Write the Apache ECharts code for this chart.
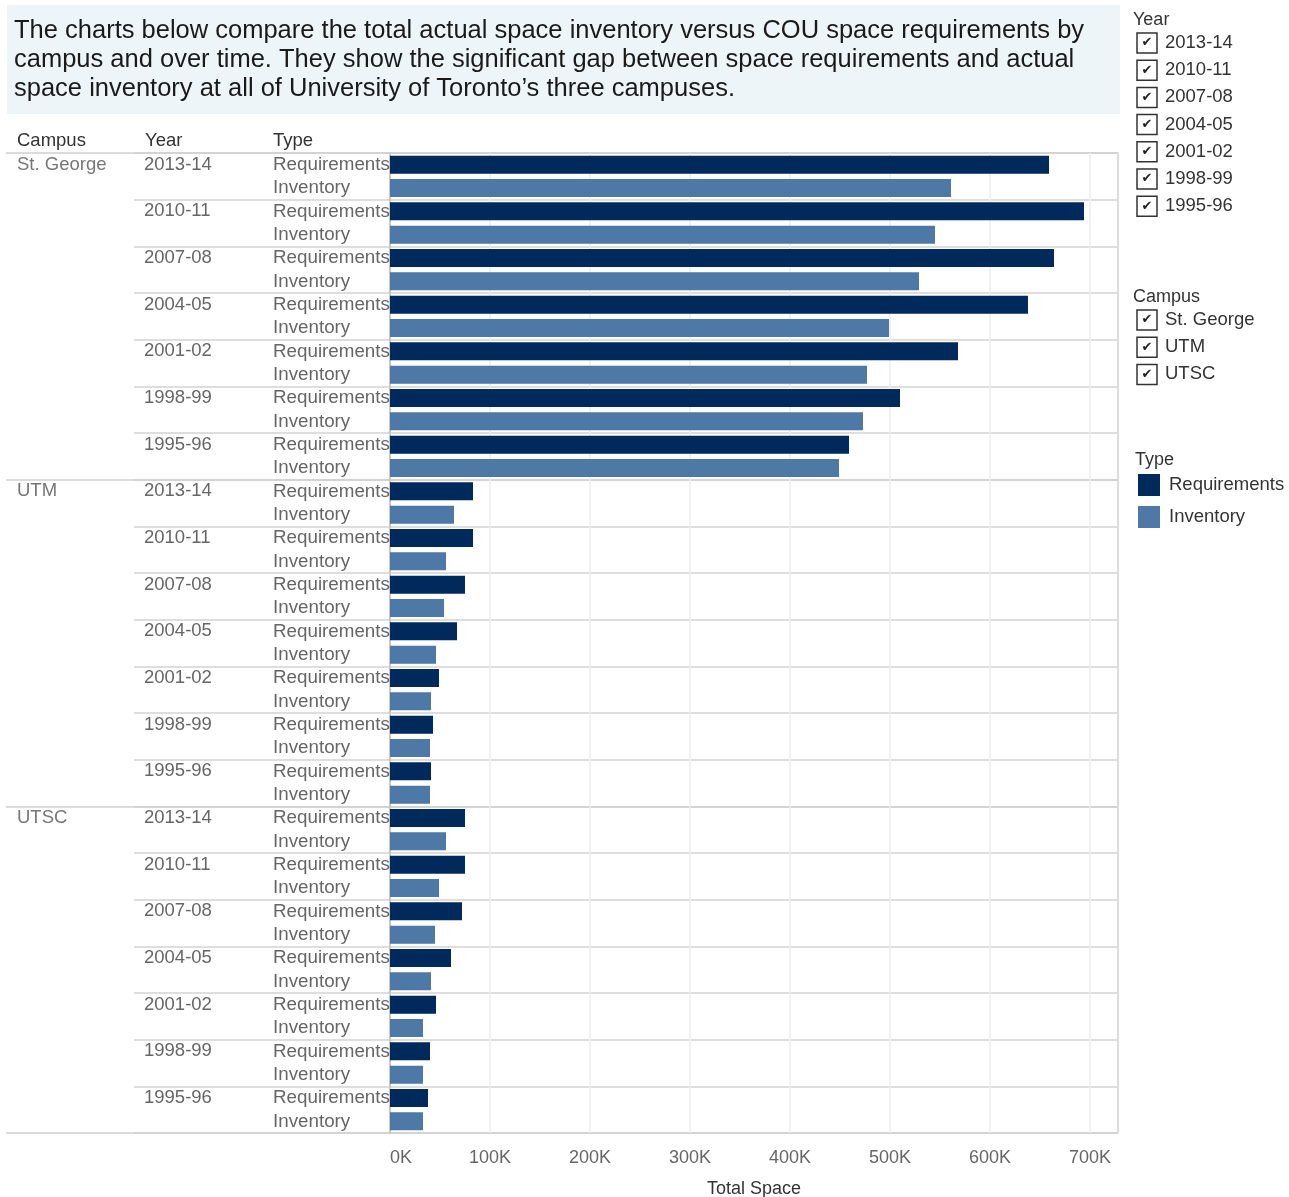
<!DOCTYPE html>
<html>
<head>
<meta charset="utf-8">
<script src="https://cdn.jsdelivr.net/npm/echarts@6/dist/echarts.min.js"></script>
<style>
html,body{margin:0;padding:0;background:#fff;}
#chart{width:1289px;height:1197px;}
</style>
</head>
<body>
<div id="chart"></div>
<script>
// ---- data ----
const campuses = ['St. George', 'UTM', 'UTSC'];
const years = ['2013-14', '2010-11', '2007-08', '2004-05', '2001-02', '1998-99', '1995-96'];
const types = ['Requirements', 'Inventory'];
const stGeorgeRequirements = [659000, 694000, 664000, 638000, 568000, 510000, 459000];
const stGeorgeInventory    = [561000, 545000, 529000, 499000, 477000, 473000, 449000];
const utmRequirements      = [83000, 83000, 75000, 67000, 49000, 43000, 41000];
const utmInventory         = [64000, 56000, 54000, 46000, 41000, 40000, 40000];
const utscRequirements     = [75000, 75000, 72000, 61000, 46000, 40000, 38000];
const utscInventory        = [56000, 49000, 45000, 41000, 33000, 33000, 33000];
const xTicks = [0, 100000, 200000, 300000, 400000, 500000, 600000, 700000];
const titleLines = [
  'The charts below compare the total actual space inventory versus COU space requirements by',
  'campus and over time. They show the significant gap between space requirements and actual',
  'space inventory at all of University of Toronto\u2019s three campuses.'
];

// ---- build rows ----
const reqByCampus = [stGeorgeRequirements, utmRequirements, utscRequirements];
const invByCampus = [stGeorgeInventory, utmInventory, utscInventory];
const rowCats = [], yearCats = [], reqData = [], invData = [];
campuses.forEach((c, ci) => {
  years.forEach((y, yi) => {
    yearCats.push(c + '|' + y);
    types.forEach(t => rowCats.push(c + '|' + y + '|' + t));
    reqData.push(reqByCampus[ci][yi], '-');
    invData.push('-', invByCampus[ci][yi]);
  });
});

const FONT = '"Liberation Sans", Arial, sans-serif';
const REQ = '#002a5c';
const INV = '#4e78a6';
const TOP = 153, BOTTOM = 1197 - 1133, RIGHT = 1289 - 1118;
const rowH = (1133 - 153) / rowCats.length;

// label helper: put text on first row of a band of n rows
function topOfBand(label, n) {
  return label + '\n\u00a0'.repeat(n - 1);
}

// ---- side filter boxes (decoration) ----
const graphics = [];
graphics.push({type:'rect', shape:{x:7, y:5, width:1113, height:109}, style:{fill:'#eef5f9'}, z:0});
graphics.push({type:'text', left:14, top:16, style:{text:titleLines.join('\n'), font:'25.5px ' + FONT, fill:'#1a1a1a', lineHeight:29}});
[['Campus',17],['Year',145],['Type',273]].forEach(h => {
  graphics.push({type:'text', left:h[1], top:131, style:{text:h[0], font:'18.5px ' + FONT, fill:'#333'}});
});
function filterList(title, items, topY) {
  graphics.push({type:'text', left:1133, top:topY - 8, style:{text:title, font:'18px ' + FONT, fill:'#333'}});
  items.forEach((it, i) => {
    const cy = topY + 24 + i * 27.2;
    graphics.push({type:'rect', shape:{x:1137, y:cy - 10, width:20, height:20}, style:{fill:'#fff', stroke:'#333', lineWidth:1.5}});
    graphics.push({type:'text', x:1147, y:cy, style:{text:'\u2714', font:'13px "DejaVu Sans"', fill:'#222', align:'center', verticalAlign:'middle'}});
    graphics.push({type:'text', x:1165, y:cy, style:{text:it, font:'18.5px ' + FONT, fill:'#333', verticalAlign:'middle'}});
  });
}
filterList('Year', years, 19);
filterList('Campus', campuses, 296);
graphics.push({type:'text', left:1135, top:451, style:{text:'Type', font:'18px ' + FONT, fill:'#333'}});

const chart = echarts.init(document.getElementById('chart'), null, {renderer:'canvas'});
chart.setOption({
  animation:false,
  textStyle:{fontFamily:FONT},
  legend:{
    data:types, orient:'vertical', left:1138, top:474, padding:0, itemWidth:22, itemHeight:22, itemGap:10,
    icon:'rect', selectedMode:false,
    textStyle:{fontSize:18.5, color:'#333', fontFamily:FONT, padding:[0,0,0,4]}
  },
  grid:[
    {left:390, right:RIGHT, top:TOP, bottom:BOTTOM, outerBoundsMode:'none', containLabel:false},
    {left:134, right:RIGHT, top:TOP, bottom:BOTTOM, outerBoundsMode:'none', containLabel:false},
    {left:6, right:RIGHT, top:TOP, bottom:BOTTOM, outerBoundsMode:'none', containLabel:false}
  ],
  xAxis:[
    {gridIndex:0, type:'value', min:0, max:728000, interval:100000,
     axisLine:{show:false}, axisTick:{show:false},
     axisLabel:{color:'#666', fontSize:18, margin:16, alignMinLabel:'left',
       formatter:v => xTicks.indexOf(v) >= 0 ? (v / 1000) + 'K' : ''},
     splitLine:{show:true, lineStyle:{color:'#ececec', width:1.5}},
     name:'Total Space', nameLocation:'middle', nameGap:47,
     nameTextStyle:{color:'#333', fontSize:18}},
    {gridIndex:1, type:'value', show:false, min:0, max:1},
    {gridIndex:2, type:'value', show:false, min:0, max:1}
  ],
  yAxis:[
    {gridIndex:0, type:'category', data:rowCats, inverse:true,
     axisLine:{show:true, lineStyle:{color:'#c8c8c8', width:2}}, axisTick:{show:false},
     axisLabel:{interval:0, align:'left', margin:117, color:'#666', fontSize:18.8,
       formatter:v => v.split('|')[2]},
     splitLine:{show:false}},
    {gridIndex:0, type:'category', data:rowCats, inverse:true, position:'right',
     axisLine:{show:true, lineStyle:{color:'#d6d6d6', width:1.5}}, axisTick:{show:false},
     axisLabel:{show:false}, splitLine:{show:false}},
    {gridIndex:1, type:'category', data:yearCats, inverse:true,
     axisLine:{show:false}, axisTick:{show:false},
     axisLabel:{interval:0, inside:true, margin:10, color:'#666', fontSize:18.5,
       verticalAlign:'middle', lineHeight:rowH,
       formatter:v => topOfBand(v.split('|')[1], types.length)},
     splitLine:{show:true, interval:0, lineStyle:{color:'#d3d3d3', width:1.5}}},
    {gridIndex:2, type:'category', data:campuses, inverse:true,
     axisLine:{show:false}, axisTick:{show:false},
     axisLabel:{interval:0, inside:true, margin:11, color:'#777', fontSize:18.5,
       verticalAlign:'middle', lineHeight:rowH,
       formatter:v => topOfBand(v, years.length * types.length)},
     splitLine:{show:true, interval:0, lineStyle:{color:'#cfcfcf', width:1.5}}}
  ],
  series:[
    {name:'Requirements', type:'bar', xAxisIndex:0, yAxisIndex:0, data:reqData,
     barWidth:18, barGap:'-100%', itemStyle:{color:REQ}, z:3},
    {name:'Inventory', type:'bar', xAxisIndex:0, yAxisIndex:0, data:invData,
     barWidth:18, barGap:'-100%', itemStyle:{color:INV}, z:3}
  ],
  graphic:graphics
});
</script>
</body>
</html>
